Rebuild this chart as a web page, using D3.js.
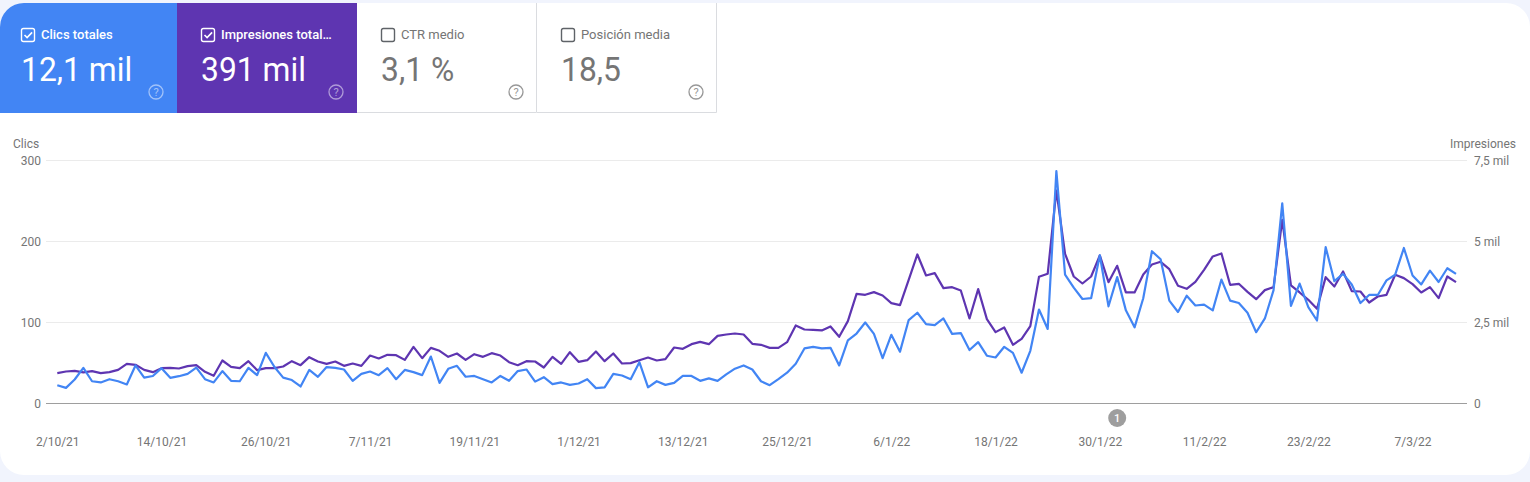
<!DOCTYPE html>
<html>
<head>
<meta charset="utf-8">
<script src="https://d3js.org/d3.v7.min.js"></script>
<style>
html, body { margin: 0; padding: 0; background: #f1f4fd; overflow: hidden; }
svg { display: block; font-family: Roboto, sans-serif; }
</style>
</head>
<body>
<svg id="chart" width="1530" height="482"></svg>
<script>
// Daily values, 2/10/21 onwards
var clicks = [22.6,19.3,29.6,44,27.5,26,30,27.5,23.5,47,32,34,43.6,31.7,33.7,36.6,44.4,30,26,40,28,27.5,44,35,62.5,45,32,29,21,41.5,33,45,44,42,28,36.6,39.5,35,43.6,30,41.5,38.7,35,58,25.5,42.8,46.5,33,34,30,26,34,28,40,42,27,32.5,24,26,23,24.7,30,19,20,36.6,34.6,30,51,20,27.5,23,25.5,34,34,28,31,28,36,43,47,42,27.5,22.6,30,38,49,68,70,68,68.7,47,78,86.4,100,86,56,84.8,64,103,112,98,96.7,105,86,87,66,75.7,59,56.8,70,62.5,38,65,116,92,287,159,143,129,130,183,120,156,115,94,130,188,178,127,113,133,121,122,115,153,127,124,112,88,105,140,247,120.6,148,119,102.5,193,151,160,147,124,134,134,152,159,192,158,147,164,150,167,160];
var impressions = [936,988,1008,960,998,936,967,1039,1224,1194,1039,967,1090,1100,1080,1152,1183,977,854,1327,1132,1090,1306,1029,1090,1090,1142,1306,1183,1430,1296,1224,1296,1162,1234,1162,1481,1389,1502,1492,1347,1749,1399,1718,1626,1440,1543,1347,1522,1440,1553,1481,1275,1183,1306,1296,1111,1440,1224,1584,1286,1337,1605,1306,1543,1234,1245,1337,1420,1327,1368,1728,1687,1831,1903,1831,2088,2130,2160,2130,1842,1811,1718,1718,1893,2408,2284,2274,2254,2377,2058,2542,3385,3355,3437,3334,3097,3036,3818,4600,3951,4023,3560,3591,3488,2624,3529,2603,2202,2346,1811,1996,2387,3910,4003,6575,4620,3920,3704,3920,4569,3745,4250,3427,3427,3982,4291,4373,4147,3632,3540,3756,4126,4538,4630,3663,3694,3447,3221,3499,3591,5670,3643,3427,3200,2922,3900,3612,4075,3468,3457,3118,3303,3355,3972,3869,3684,3427,3591,3252,3920,3745];

var dateLabels = ["2/10/21","14/10/21","26/10/21","7/11/21","19/11/21","1/12/21","13/12/21","25/12/21","6/1/22","18/1/22","30/1/22","11/2/22","23/2/22","7/3/22"];
var dateIndex = [0,12,24,36,48,60,72,84,96,108,120,132,144,156];

var clickTicks = [0,100,200,300];
var clickTickLabels = ["0","100","200","300"];
var impressionTicks = [0,2500,5000,7500];
var impressionTickLabels = ["0","2,5 mil","5 mil","7,5 mil"];

var cardTitles = ["Clics totales","Impresiones total…","CTR medio","Posición media"];
var cardValues = ["12,1 mil","391 mil","3,1 %","18,5"];
var cardChecked = [true,true,false,false];
var cardFills = ["#4285f4","#5e35b1","#ffffff","#ffffff"];

var annotationIndex = [122];
var annotationLabels = ["1"];

var svg = d3.select("#chart");

var BLUE = "#4285f4", PURPLE = "#5e35b1", GREY = "#757575";

// white panel behind everything
svg.append("rect")
	.attr("x", 0).attr("y", 3)
	.attr("width", 1530).attr("height", 472)
	.attr("rx", 24)
	.attr("fill", "#fff");

/* ------------------------- */
/* metric cards */
/* ------------------------- */
var cardX = d3.scaleBand().domain(d3.range(cardTitles.length)).range([-3, 717]);

var clip = svg.append("defs").append("clipPath").attr("id", "panel");
clip.append("path").attr("d", "M0,113V27A24,24 0 0 1 24,3H1530V113Z");

var cards = svg.append("g").attr("clip-path", "url(#panel)")
	.selectAll("g")
	.data(cardTitles)
	.enter().append("g")
	.attr("transform", function(d, i) { return "translate(" + cardX(i) + ",3)"; });

cards.append("rect")
	.attr("width", cardX.bandwidth())
	.attr("height", 110)
	.attr("fill", function(d, i) { return cardFills[i]; });

// the white cards have a thin border on right and bottom
cards.filter(function(d, i) { return !cardChecked[i]; }).append("path")
	.attr("d", "M179.5,0V109.5H0")
	.attr("fill", "none")
	.attr("stroke", "#dadce0");

// children lose the card's index, so look it up from the title
function isOn(d) { return cardChecked[cardTitles.indexOf(d)]; }
function fg(d) { return isOn(d) ? "#fff" : GREY; }

cards.append("rect")
	.attr("x", 24.5).attr("y", 25.5)
	.attr("width", 13).attr("height", 13)
	.attr("rx", 2)
	.attr("fill", "none")
	.attr("stroke", function(d) { return isOn(d) ? "#fff" : "#5f6368"; })
	.attr("stroke-width", 1.4);

cards.filter(isOn).append("path")
	.attr("d", "M27.5,32l2.6,2.6l5,-5.2")
	.attr("fill", "none")
	.attr("stroke", "#fff")
	.attr("stroke-width", 1.6);

cards.append("text")
	.attr("x", 44).attr("y", 36)
	.attr("font-size", 13)
	.attr("font-weight", function(d) { return isOn(d) ? 500 : 400; })
	.attr("fill", fg)
	.text(function(d) { return d; });

// the big numbers are a little narrower than plain Roboto in the screenshot
cards.append("text")
	.attr("transform", "translate(24,78) scale(0.95,1)")
	.attr("font-size", 33.5)
	.attr("fill", fg)
	.text(function(d) { return cardValues[cardTitles.indexOf(d)]; });

var help = cards.append("g")
	.attr("transform", "translate(159,89)")
	.attr("opacity", function(d) { return isOn(d) ? 0.5 : 0.75; });
help.append("circle")
	.attr("r", 7)
	.attr("fill", "none")
	.attr("stroke", fg)
	.attr("stroke-width", 1.3);
help.append("text")
	.attr("text-anchor", "middle")
	.attr("y", 4)
	.attr("font-size", 11)
	.attr("fill", fg)
	.text("?");

/* ------------------------- */
/* chart */
/* ------------------------- */
var x = d3.scaleLinear().domain([0, clicks.length - 1]).range([57.3, 1456]);
var yClicks = d3.scaleLinear().domain([0, 300]).range([403.5, 160.5]);
var yImpr = d3.scaleLinear().domain([0, 7500]).range([403.5, 160.5]);

var leftAxis = d3.axisLeft(yClicks)
	.tickValues(clickTicks)
	.tickSize(0)
	.tickPadding(0)
	.tickFormat(function(d, i) { return clickTickLabels[i]; });

var gLeft = svg.append("g").attr("transform", "translate(41,0)").call(leftAxis);

var rightAxis = d3.axisRight(yImpr)
	.tickValues(impressionTicks)
	.tickSize(0)
	.tickPadding(0)
	.tickFormat(function(d, i) { return impressionTickLabels[i]; });

var gRight = svg.append("g").attr("transform", "translate(1474,0)").call(rightAxis);

var bottomAxis = d3.axisBottom(x)
	.tickValues(dateIndex)
	.tickSize(0)
	.tickPadding(0)
	.tickFormat(function(d, i) { return dateLabels[i]; });

var gBottom = svg.append("g").attr("transform", "translate(0,437)").call(bottomAxis);

[gLeft, gRight, gBottom].forEach(function(g) {
	g.select(".domain").remove();
	g.attr("font-family", null).attr("font-size", null);
	g.selectAll("text").attr("font-size", 12).attr("fill", GREY);
});

// grid lines
svg.append("g").selectAll("line")
	.data(clickTicks)
	.enter().append("line")
	.attr("x1", 46).attr("x2", 1467)
	.attr("y1", function(d) { return yClicks(d); })
	.attr("y2", function(d) { return yClicks(d); })
	.attr("stroke", function(d) { return d === 0 ? "#9e9e9e" : "#ebebeb"; });

svg.append("text")
	.attr("x", 13).attr("y", 148)
	.attr("font-size", 12).attr("fill", GREY)
	.text("Clics");

svg.append("text")
	.attr("x", 1516).attr("y", 148)
	.attr("text-anchor", "end")
	.attr("font-size", 12).attr("fill", GREY)
	.text("Impresiones");

function drawLine(values, scale, color) {
	var line = d3.line()
		.x(function(d, i) { return x(i); })
		.y(function(d) { return scale(d); });
	svg.append("path")
		.datum(values)
		.attr("d", line)
		.attr("fill", "none")
		.attr("stroke", color)
		.attr("stroke-width", 2.2)
		.attr("stroke-linejoin", "round");
}

drawLine(impressions, yImpr, PURPLE);
drawLine(clicks, yClicks, BLUE);

// annotation marker under the axis
var notes = svg.append("g").selectAll("g")
	.data(annotationIndex)
	.enter().append("g")
	.attr("transform", function(d) { return "translate(" + x(d) + ",418)"; });
notes.append("circle").attr("r", 9).attr("fill", "#9e9e9e");
notes.append("text")
	.attr("text-anchor", "middle")
	.attr("y", 4)
	.attr("font-size", 11)
	.attr("font-weight", 500)
	.attr("fill", "#fff")
	.text(function(d, i) { return annotationLabels[i]; });
</script>
</body>
</html>
